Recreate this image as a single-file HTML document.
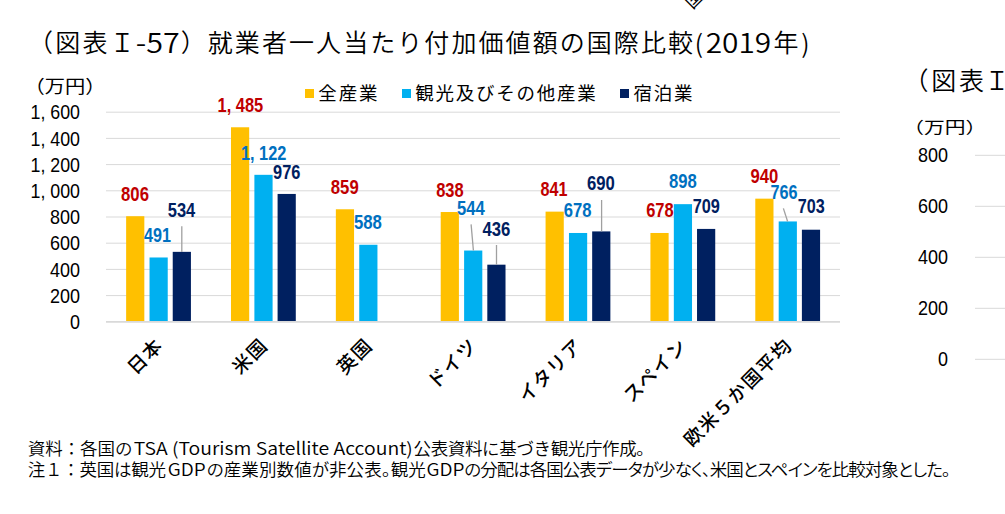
<!DOCTYPE html>
<html lang="ja"><head><meta charset="utf-8"><title>就業者一人当たり付加価値額の国際比較</title>
<style>
html,body{margin:0;padding:0;background:#fff;}
body{width:1005px;height:514px;overflow:hidden;}
svg{display:block;}
text{font-family:"Liberation Sans","Noto Sans CJK JP",sans-serif;}
.jp{font-family:"Noto Sans CJK JP",sans-serif;}
.p{font-feature-settings:"palt";}
.dv{font-family:"DejaVu Sans","Noto Sans CJK JP",sans-serif;font-weight:400;}
.lab{font-family:"Liberation Sans",sans-serif;font-weight:bold;font-size:20px;}
.ax{font-family:"Liberation Sans",sans-serif;font-size:20.6px;fill:#000;}
</style></head><body>
<svg width="1005" height="514" viewBox="0 0 1005 514">
<rect width="1005" height="514" fill="#fff"/>

<g fill="#000" class="jp" font-weight="350">
<text class="jp" x="27.9" y="52.2" font-size="25" textLength="79.7" lengthAdjust="spacing">（図表</text>
<text class="jp" x="109.7" y="52.2" font-size="25">Ｉ</text>
<text class="jp" x="135.8" y="53.1" font-size="27" textLength="44" lengthAdjust="spacingAndGlyphs">-57</text>
<text class="jp" x="180.8" y="52.2" font-size="25">）</text>
<text class="jp" x="207.8" y="52.2" font-size="25" textLength="485.2" lengthAdjust="spacing">就業者一人当たり付加価値額の国際比較</text>
<text class="jp" x="694.8" y="53" font-size="25">(</text>
<text class="jp" x="705.7" y="53.1" font-size="27" textLength="65.5" lengthAdjust="spacingAndGlyphs">2019</text>
<text class="jp" x="773.6" y="52.2" font-size="25">年</text>
<text class="jp" x="801.3" y="53" font-size="25">)</text>
</g>
<text class="jp" font-size="18" transform="translate(698.5,3.5) rotate(-45)" text-anchor="middle" fill="#000">国</text>
<g stroke="#D9D9D9" stroke-width="1">
<line x1="106" x2="840" y1="295.6" y2="295.6"/>
<line x1="106" x2="840" y1="269.4" y2="269.4"/>
<line x1="106" x2="840" y1="243.2" y2="243.2"/>
<line x1="106" x2="840" y1="217.0" y2="217.0"/>
<line x1="106" x2="840" y1="190.8" y2="190.8"/>
<line x1="106" x2="840" y1="164.6" y2="164.6"/>
<line x1="106" x2="840" y1="138.4" y2="138.4"/>
<line x1="106" x2="840" y1="112.2" y2="112.2"/>
</g>
<rect x="126.13" y="216.21" width="18.2" height="105.59" fill="#FFC000"/>
<rect x="149.53" y="257.48" width="18.2" height="64.32" fill="#00B0F0"/>
<rect x="172.73" y="251.85" width="18.2" height="69.95" fill="#002060"/>
<rect x="230.99" y="127.27" width="18.2" height="194.53" fill="#FFC000"/>
<rect x="254.39" y="174.82" width="18.2" height="146.98" fill="#00B0F0"/>
<rect x="277.59" y="193.94" width="18.2" height="127.86" fill="#002060"/>
<rect x="335.85" y="209.27" width="18.2" height="112.53" fill="#FFC000"/>
<rect x="359.25" y="244.77" width="18.2" height="77.03" fill="#00B0F0"/>
<rect x="440.71" y="212.02" width="18.2" height="109.78" fill="#FFC000"/>
<rect x="464.11" y="250.54" width="18.2" height="71.26" fill="#00B0F0"/>
<rect x="487.31" y="264.68" width="18.2" height="57.12" fill="#002060"/>
<rect x="545.57" y="211.63" width="18.2" height="110.17" fill="#FFC000"/>
<rect x="568.97" y="232.98" width="18.2" height="88.82" fill="#00B0F0"/>
<rect x="592.17" y="231.41" width="18.2" height="90.39" fill="#002060"/>
<rect x="650.43" y="232.98" width="18.2" height="88.82" fill="#FFC000"/>
<rect x="673.83" y="204.16" width="18.2" height="117.64" fill="#00B0F0"/>
<rect x="697.03" y="228.92" width="18.2" height="92.88" fill="#002060"/>
<rect x="755.29" y="198.66" width="18.2" height="123.14" fill="#FFC000"/>
<rect x="778.69" y="221.45" width="18.2" height="100.35" fill="#00B0F0"/>
<rect x="801.89" y="229.71" width="18.2" height="92.09" fill="#002060"/>
<line x1="106" x2="840" y1="321.8" y2="321.8" stroke="#D9D9D9" stroke-width="1.8"/>
<g stroke="#A0A0A0" stroke-width="1.3">
<line x1="181.8" y1="226.3" x2="181.8" y2="252.0"/>
<line x1="471.1" y1="224.4" x2="473.4" y2="250.5"/>
<line x1="496.5" y1="245.0" x2="496.5" y2="264.7"/>
<line x1="601.6" y1="200.0" x2="601.6" y2="231.4"/>
<line x1="783.4" y1="208.4" x2="787.6" y2="221.5"/>
</g>
<text class="lab" x="135.0" y="200.6" text-anchor="middle" fill="#C00000" textLength="27.9" lengthAdjust="spacingAndGlyphs">806</text>
<text class="lab" x="157.5" y="242.2" text-anchor="middle" fill="#0070C0" textLength="27.0" lengthAdjust="spacingAndGlyphs">491</text>
<text class="lab" x="181.5" y="217.0" text-anchor="middle" fill="#002060" textLength="27.5" lengthAdjust="spacingAndGlyphs">534</text>
<text class="lab" x="240.35" y="112.1" text-anchor="middle" fill="#C00000" textLength="45.7" lengthAdjust="spacingAndGlyphs">1, 485</text>
<text class="lab" x="263.6" y="159.5" text-anchor="middle" fill="#0070C0" textLength="45.4" lengthAdjust="spacingAndGlyphs">1, 122</text>
<text class="lab" x="286.7" y="178.5" text-anchor="middle" fill="#002060" textLength="27.3" lengthAdjust="spacingAndGlyphs">976</text>
<text class="lab" x="344.75" y="194.0" text-anchor="middle" fill="#C00000" textLength="27.9" lengthAdjust="spacingAndGlyphs">859</text>
<text class="lab" x="367.85" y="228.8" text-anchor="middle" fill="#0070C0" textLength="27.9" lengthAdjust="spacingAndGlyphs">588</text>
<text class="lab" x="449.95" y="196.6" text-anchor="middle" fill="#C00000" textLength="27.5" lengthAdjust="spacingAndGlyphs">838</text>
<text class="lab" x="470.8" y="215.1" text-anchor="middle" fill="#0070C0" textLength="27.8" lengthAdjust="spacingAndGlyphs">544</text>
<text class="lab" x="496.3" y="236.1" text-anchor="middle" fill="#002060" textLength="27.8" lengthAdjust="spacingAndGlyphs">436</text>
<text class="lab" x="553.9" y="196.0" text-anchor="middle" fill="#C00000" textLength="27.0" lengthAdjust="spacingAndGlyphs">841</text>
<text class="lab" x="577.65" y="216.9" text-anchor="middle" fill="#0070C0" textLength="27.7" lengthAdjust="spacingAndGlyphs">678</text>
<text class="lab" x="601.0" y="190.4" text-anchor="middle" fill="#002060" textLength="27.8" lengthAdjust="spacingAndGlyphs">690</text>
<text class="lab" x="659.95" y="217.1" text-anchor="middle" fill="#C00000" textLength="27.5" lengthAdjust="spacingAndGlyphs">678</text>
<text class="lab" x="682.9" y="188.2" text-anchor="middle" fill="#0070C0" textLength="27.8" lengthAdjust="spacingAndGlyphs">898</text>
<text class="lab" x="706.25" y="213.1" text-anchor="middle" fill="#002060" textLength="27.2" lengthAdjust="spacingAndGlyphs">709</text>
<text class="lab" x="764.5" y="182.9" text-anchor="middle" fill="#C00000" textLength="27.8" lengthAdjust="spacingAndGlyphs">940</text>
<text class="lab" x="783.95" y="198.6" text-anchor="middle" fill="#0070C0" textLength="27.0" lengthAdjust="spacingAndGlyphs">766</text>
<text class="lab" x="811.2" y="213.3" text-anchor="middle" fill="#002060" textLength="27.0" lengthAdjust="spacingAndGlyphs">703</text>
<g class="ax" text-anchor="end">
<text x="80" y="329.0" textLength="10" lengthAdjust="spacingAndGlyphs">0</text>
<text x="80" y="302.8" textLength="30" lengthAdjust="spacingAndGlyphs">200</text>
<text x="80" y="276.6" textLength="30" lengthAdjust="spacingAndGlyphs">400</text>
<text x="80" y="250.4" textLength="30" lengthAdjust="spacingAndGlyphs">600</text>
<text x="80" y="224.2" textLength="30" lengthAdjust="spacingAndGlyphs">800</text>
<text x="80" y="198.0" textLength="49.5" lengthAdjust="spacingAndGlyphs">1, 000</text>
<text x="80" y="171.8" textLength="49.5" lengthAdjust="spacingAndGlyphs">1, 200</text>
<text x="80" y="145.6" textLength="49.5" lengthAdjust="spacingAndGlyphs">1, 400</text>
<text x="80" y="119.4" textLength="49.5" lengthAdjust="spacingAndGlyphs">1, 600</text>
</g>
<text class="jp" x="24.5" y="93" font-size="18" textLength="81" lengthAdjust="spacingAndGlyphs">（万円）</text>
<rect x="305" y="89" width="9" height="9" fill="#FFC000"/>
<text class="jp" x="318.3" y="100" font-size="18.5" textLength="59.3" lengthAdjust="spacing" fill="#000">全産業</text>
<rect x="402" y="89" width="9" height="9" fill="#00B0F0"/>
<text class="jp" x="415.2" y="100" font-size="18.5" textLength="180.5" lengthAdjust="spacing" fill="#000">観光及びその他産業</text>
<rect x="620" y="89" width="9" height="9" fill="#002060"/>
<text class="jp" x="633.6" y="100" font-size="18.5" textLength="58.9" lengthAdjust="spacing" fill="#000">宿泊業</text>
<text class="jp" font-size="19" font-weight="500" letter-spacing="1.5" text-anchor="end" transform="translate(164.4,346.4) rotate(-45)" fill="#000">日本</text>
<text class="jp" font-size="19" font-weight="500" letter-spacing="1.5" text-anchor="end" transform="translate(269.3,346.4) rotate(-45)" fill="#000">米国</text>
<text class="jp" font-size="19" font-weight="500" letter-spacing="1.5" text-anchor="end" transform="translate(374.1,346.4) rotate(-45)" fill="#000">英国</text>
<text class="jp" font-size="19" font-weight="500" letter-spacing="1.5" text-anchor="end" transform="translate(479.0,346.4) rotate(-45)" fill="#000">ドイツ</text>
<text class="jp" font-size="19" font-weight="500" letter-spacing="1.5" text-anchor="end" transform="translate(583.9,346.4) rotate(-45)" fill="#000">イタリア</text>
<text class="jp" font-size="19" font-weight="500" letter-spacing="1.5" text-anchor="end" transform="translate(688.7,346.4) rotate(-45)" fill="#000">スペイン</text>
<text class="jp" font-size="19" font-weight="500" letter-spacing="1.5" text-anchor="end" transform="translate(793.6,346.4) rotate(-45)" fill="#000">欧米５か国平均</text>
<g font-size="17.5" fill="#000" font-weight="350">
<text class="jp" x="27.8" y="454.5" textLength="104.7" lengthAdjust="spacing">資料：各国の</text>
<text class="jp sg" x="133.8" y="454.5" textLength="279.0" lengthAdjust="spacingAndGlyphs">TSA (Tourism Satellite Account)</text>
<text class="jp" x="413.6" y="454.5" textLength="240.2" lengthAdjust="spacing">公表資料に基づき観光庁作成。</text>
<text class="jp" x="27.8" y="475.5" textLength="138.2" lengthAdjust="spacing">注１：英国は観光</text>
<text class="jp sg" x="167.8" y="475.5" textLength="37.9" lengthAdjust="spacingAndGlyphs">GDP</text>
<text class="jp p" x="206.7" y="475.5" textLength="219.1" lengthAdjust="spacing">の産業別数値が非公表。観光</text>
<text class="jp sg" x="426.4" y="475.5" textLength="37.9" lengthAdjust="spacingAndGlyphs">GDP</text>
<text class="jp p" x="464.3" y="475.5" textLength="486.3" lengthAdjust="spacing">の分配は各国公表データが少なく、米国とスペインを比較対象とした。</text>
</g>
<text class="jp" x="903.6" y="89.5" font-size="25" font-weight="350" textLength="80.3" lengthAdjust="spacing" fill="#000">（図表</text>
<text class="jp" x="984.4" y="89.5" font-size="25" font-weight="350" fill="#000">Ｉ</text>
<text class="jp" x="903.2" y="132.5" font-size="16" textLength="83" lengthAdjust="spacingAndGlyphs" fill="#000">（万円）</text>
<g stroke="#D9D9D9" stroke-width="1">
<line x1="975" x2="1005" y1="359.3" y2="359.3"/>
<line x1="975" x2="1005" y1="308.3" y2="308.3"/>
<line x1="975" x2="1005" y1="257.3" y2="257.3"/>
<line x1="975" x2="1005" y1="206.3" y2="206.3"/>
<line x1="975" x2="1005" y1="155.3" y2="155.3"/>
</g>
<g class="ax" text-anchor="end">
<text x="948" y="366.4" textLength="10" lengthAdjust="spacingAndGlyphs">0</text>
<text x="948" y="315.4" textLength="30" lengthAdjust="spacingAndGlyphs">200</text>
<text x="948" y="264.4" textLength="30" lengthAdjust="spacingAndGlyphs">400</text>
<text x="948" y="213.4" textLength="30" lengthAdjust="spacingAndGlyphs">600</text>
<text x="948" y="162.4" textLength="30" lengthAdjust="spacingAndGlyphs">800</text>
</g>
</svg></body></html>
